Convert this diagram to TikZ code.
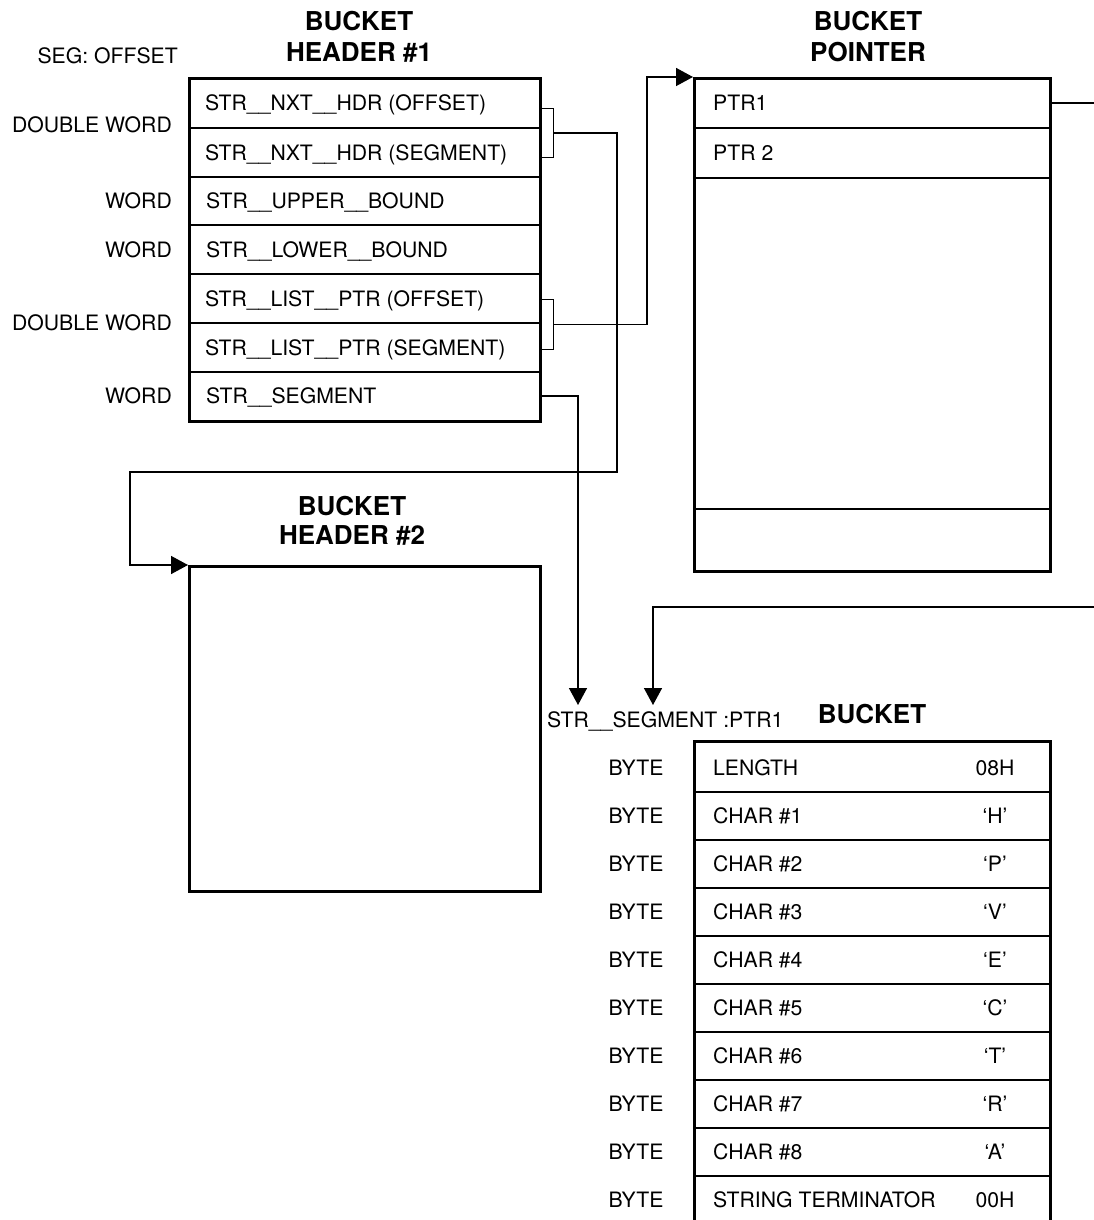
\documentclass[tikz,border=0pt]{standalone}
\usepackage{fontspec}
\setmainfont{TeX Gyre Heros}
\usetikzlibrary{arrows.meta}
\begin{document}
\begin{tikzpicture}[x=1pt,y=-1pt,
  lbl/.style={font=\fontsize{21.2}{25}\selectfont, inner sep=0pt, text height=15.2pt, text depth=0pt},
  ttl/.style={font=\fontsize{26}{31}\selectfont\bfseries, inner sep=0pt, align=center},
  outerbox/.style={draw, line width=2.6pt, inner sep=0pt, anchor=north west},
  brk/.style={draw, line width=1.4pt, inner sep=0pt, anchor=north west, minimum width=14pt},
  rule/.style={line width=1.3pt},
  conn/.style={line width=1.5pt},
  arr/.style={conn, -{Triangle[length=17pt,width=18pt]}}]
\useasboundingbox (0,0) rectangle (1094,1220);
\clip (0,0) rectangle (1094,1220);

% ---------- Bucket Header #1 ----------
\node[ttl] (t1) at (359,36.5) {BUCKET\\HEADER \#1};
\node[lbl, anchor=east] (segoff) at (178,56) {SEG: OFFSET};
\node[outerbox, minimum width=351pt, minimum height=343pt] (h1) at (188,77) {};
\foreach \yy in {128,177,225,274,323,372}
  \draw[rule] (h1.west |- 0,\yy) -- (h1.east |- 0,\yy);
\node[lbl, anchor=west] (r1) at (205,102.5) {STR\_\_NXT\_\_HDR (OFFSET)};
\node[lbl, anchor=west] (r2) at (205,152.5) {STR\_\_NXT\_\_HDR (SEGMENT)};
\node[lbl, anchor=west] (r3) at (206,201) {STR\_\_UPPER\_\_BOUND};
\node[lbl, anchor=west] (r4) at (206,249.5) {STR\_\_LOWER\_\_BOUND};
\node[lbl, anchor=west] (r5) at (205,298.5) {STR\_\_LIST\_\_PTR (OFFSET)};
\node[lbl, anchor=west] (r6) at (205,347.5) {STR\_\_LIST\_\_PTR (SEGMENT)};
\node[lbl, anchor=west] (r7) at (206,396) {STR\_\_SEGMENT};
\node[lbl, anchor=east] (l1) at (172,125) {DOUBLE WORD};
\node[lbl, anchor=east] (l3) at (172,201) {WORD};
\node[lbl, anchor=east] (l4) at (172,249.5) {WORD};
\node[lbl, anchor=east] (l5) at (172,323) {DOUBLE WORD};
\node[lbl, anchor=east] (l7) at (172,396) {WORD};
\node[brk, minimum height=49pt] (b1) at (539,108) {};
\node[brk, minimum height=50pt] (b2) at (539,299) {};

% ---------- Bucket Header #2 ----------
\node[ttl, font=\fontsize{26}{29}\selectfont\bfseries] (t2) at (352,520.5) {BUCKET\\HEADER \#2};
\node[outerbox, minimum width=351pt, minimum height=325pt] (h2) at (188,565) {};

% ---------- Bucket Pointer ----------
\node[ttl] (t3) at (868,36.5) {BUCKET\\POINTER};
\node[outerbox, minimum width=356pt, minimum height=493pt] (p) at (693,77) {};
\foreach \yy in {128,178,509}
  \draw[rule] (p.west |- 0,\yy) -- (p.east |- 0,\yy);
\node[lbl, anchor=west] (p1) at (713,103) {PTR1};
\node[lbl, anchor=west] (p2) at (713,153) {PTR 2};

% ---------- Bucket ----------
\node[ttl] (t4) at (872,714) {BUCKET};
\node[lbl, anchor=west] (seg) at (547,720) {STR\_\_SEGMENT :PTR1};
\node[outerbox, minimum width=356pt, minimum height=500pt] (bk) at (693,740) {};
\foreach \i in {0,...,8}
  \draw[rule] (bk.west |- 0,{792+48*\i}) -- (bk.east |- 0,{792+48*\i});
\foreach \i/\t/\v in {0/LENGTH/08H, 1/CHAR \#1/‘H’, 2/CHAR \#2/‘P’, 3/CHAR \#3/‘V’,
    4/CHAR \#4/‘E’, 5/CHAR \#5/‘C’, 6/CHAR \#6/‘T’, 7/CHAR \#7/‘R’, 8/CHAR \#8/‘A’,
    9/STRING TERMINATOR/00H} {
  \node[lbl] (bb\i) at (636,{768+48*\i}) {BYTE};
  \node[lbl, anchor=west] (bn\i) at (713,{768+48*\i}) {\t};
  \node[lbl] (bv\i) at (995,{768+48*\i}) {\v};
}

% ---------- Connectors ----------
\coordinate (c1) at (617,472);
\coordinate (c2) at (130,565);
\draw[arr] (b1.east) -| (c1) -| (c2) -- (h2.north west);

\coordinate (c3) at (647,77);
\draw[arr] (b2.east) -| (c3) -- (p.north west);

\coordinate (s7) at (h1.east |- r7);
\coordinate (a1) at (578,705);
\draw[arr] (s7) -| (a1);

\coordinate (e1) at (1094,103);
\draw[conn] (p.east |- p1) -- (e1);

\coordinate (e2) at (1094,607);
\coordinate (a2) at (653,705);
\draw[arr] (e2) -| (a2);
\end{tikzpicture}
\end{document}
